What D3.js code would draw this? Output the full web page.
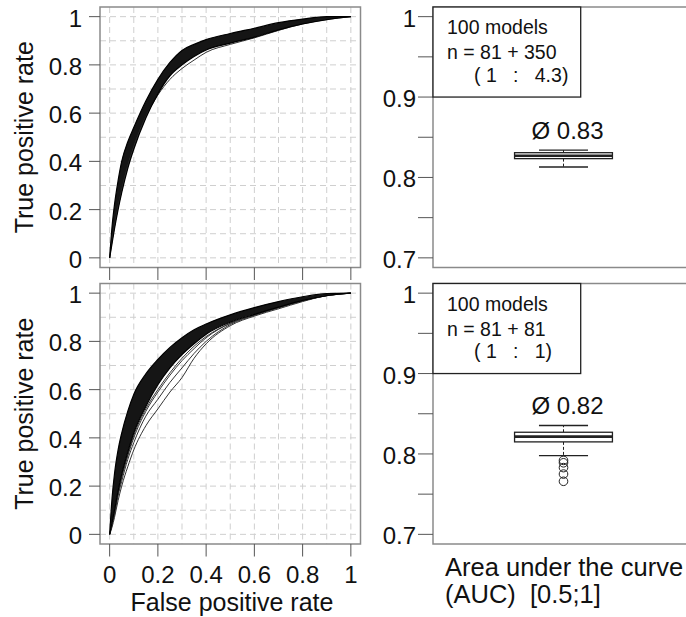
<!DOCTYPE html>
<html>
<head>
<meta charset="utf-8">
<script src="https://cdn.jsdelivr.net/npm/d3@7"></script>
<style>
  body { margin: 0; background: #fff; }
  text { font-family: "Liberation Sans", Arial, sans-serif; fill: #111; }
</style>
</head>
<body>
<div id="chartContainer"></div>
<script>
// false positive rate points shared by every ROC curve
const fprPoints = [0, 0.01, 0.02, 0.035, 0.05, 0.075, 0.1, 0.15, 0.2, 0.25, 0.3, 0.35, 0.4, 0.5, 0.6, 0.7, 0.8, 0.9, 1];

// top panel (n = 81 + 350): upper / lower edge of the bundle and one stray curve
const topUpper = [0, 0.13, 0.22, 0.32, 0.4, 0.48, 0.54, 0.65, 0.74, 0.81, 0.86, 0.885, 0.905, 0.93, 0.952, 0.975, 0.99, 1, 1];
const topLower = [0, 0.06, 0.12, 0.2, 0.27, 0.37, 0.45, 0.58, 0.68, 0.755, 0.8, 0.835, 0.862, 0.89, 0.915, 0.945, 0.97, 0.988, 1];
const topStray = [0, 0.07, 0.13, 0.21, 0.28, 0.38, 0.46, 0.585, 0.675, 0.74, 0.785, 0.82, 0.852, 0.885, 0.912, 0.943, 0.97, 0.988, 1];

// bottom panel (n = 81 + 81): dense core plus spread-out lower curves
const bottomUpper = [0, 0.15, 0.25, 0.35, 0.42, 0.51, 0.58, 0.665, 0.725, 0.775, 0.815, 0.848, 0.872, 0.91, 0.94, 0.965, 0.985, 0.998, 1];
const bottomCore = [0, 0.05, 0.1, 0.18, 0.25, 0.34, 0.42, 0.53, 0.62, 0.69, 0.745, 0.79, 0.83, 0.88, 0.912, 0.942, 0.97, 0.99, 1];
const bottomStray1 = [0, 0.03, 0.07, 0.14, 0.2, 0.28, 0.35, 0.45, 0.52, 0.59, 0.65, 0.73, 0.79, 0.865, 0.905, 0.935, 0.965, 0.99, 1];
const bottomStray2 = [0, 0.04, 0.08, 0.16, 0.22, 0.31, 0.38, 0.49, 0.56, 0.63, 0.69, 0.75, 0.8, 0.87, 0.908, 0.94, 0.968, 0.99, 1];
const bottomStray3 = [0, 0.045, 0.09, 0.17, 0.235, 0.325, 0.4, 0.51, 0.59, 0.66, 0.72, 0.77, 0.815, 0.875, 0.91, 0.94, 0.968, 0.99, 1];
const bottomStray4 = [0, 0.04, 0.09, 0.17, 0.24, 0.33, 0.41, 0.52, 0.6, 0.67, 0.73, 0.78, 0.82, 0.875, 0.91, 0.94, 0.97, 0.99, 1];

const rateTicks = [0, 0.2, 0.4, 0.6, 0.8, 1];
const rateLabels = ["0", "0.2", "0.4", "0.6", "0.8", "1"];
const aucTicks = [0.7, 0.75, 0.8, 0.85, 0.9, 0.95, 1];
const aucLabels = ["0.7", "", "0.8", "", "0.9", "", "1"];

// AUC boxplots, top then bottom
const aucMin = [0.813, 0.798];
const aucQ1 = [0.8234, 0.815];
const aucMedian = [0.827, 0.8215];
const aucQ3 = [0.8308, 0.827];
const aucMax = [0.834, 0.8354];
const aucMean = ["0.83", "0.82"];
const aucOutliers = [[], [0.792, 0.789, 0.783, 0.775, 0.766]];

const legendTop = ["100 models", "n = 81 + 350", "     ( 1   :   4.3)"];
const legendBottom = ["100 models", "n = 81 + 81", "     ( 1   :   1)"];

function pageLoaded() {
  const w = 686;
  const h = 617;
  const rowTops = [7, 283.5];
  const panelH = 260.5;
  const left = { x0: 100, x1: 360.5 };
  const right = { x0: 433, x1: 694 };

  const svg = d3
    .select("#chartContainer")
    .append("svg")
    .attr("width", w)
    .attr("height", h);

  const rocRows = [
    { bands: [[topUpper, topLower]], lines: [topUpper, topLower], strays: [topStray], legend: legendTop },
    {
      bands: [[bottomUpper, bottomCore]],
      lines: [bottomUpper, bottomCore],
      strays: [bottomStray1, bottomStray2, bottomStray3, bottomStray4],
      legend: legendBottom,
    },
  ];

  rocRows.forEach((row, i) => {
    const top = rowTops[i];

    // ---- ROC panel ----
    const xScale = d3.scaleLinear().domain([-0.04, 1.04]).range([left.x0, left.x1]);
    const yScale = d3.scaleLinear().domain([-0.04, 1.04]).range([top + panelH, top]);

    const g = svg.append("g");

    g.selectAll(".vgrid")
      .data(xScale.ticks(10))
      .enter()
      .append("line")
      .attr("x1", (d) => xScale(d))
      .attr("x2", (d) => xScale(d))
      .attr("y1", top)
      .attr("y2", top + panelH)
      .attr("stroke", "#cfcfcf")
      .attr("stroke-dasharray", "6,4");

    g.selectAll(".hgrid")
      .data(yScale.ticks(10))
      .enter()
      .append("line")
      .attr("x1", left.x0)
      .attr("x2", left.x1)
      .attr("y1", (d) => yScale(d))
      .attr("y2", (d) => yScale(d))
      .attr("stroke", "#cfcfcf")
      .attr("stroke-dasharray", "6,4");

    const line = d3
      .line()
      .x((d, j) => xScale(fprPoints[j]))
      .y((d) => yScale(d))
      .curve(d3.curveMonotoneX);

    const area = d3
      .area()
      .x((d, j) => xScale(fprPoints[j]))
      .y0((d) => yScale(d[1]))
      .y1((d) => yScale(d[0]))
      .curve(d3.curveMonotoneX);

    row.bands.forEach((b) => {
      g.append("path")
        .datum(fprPoints.map((p, j) => [b[0][j], b[1][j]]))
        .attr("d", area)
        .attr("fill", "#151515");
    });

    row.strays.forEach((s) => {
      g.append("path")
        .datum(s)
        .attr("d", line)
        .attr("fill", "none")
        .attr("stroke", "#333")
        .attr("stroke-width", 1);
    });

    row.lines.forEach((s) => {
      g.append("path")
        .datum(s)
        .attr("d", line)
        .attr("fill", "none")
        .attr("stroke", "#000")
        .attr("stroke-width", 1.2);
    });

    g.append("rect")
      .attr("x", left.x0)
      .attr("y", top)
      .attr("width", left.x1 - left.x0)
      .attr("height", panelH)
      .attr("fill", "none")
      .attr("stroke", "#8a8a8a")
      .attr("stroke-width", 1.5);

    // y axis
    g.selectAll(".ytick")
      .data(rateTicks)
      .enter()
      .append("line")
      .attr("x1", left.x0 - 11)
      .attr("x2", left.x0)
      .attr("y1", (d) => yScale(d))
      .attr("y2", (d) => yScale(d))
      .attr("stroke", "#555");

    g.selectAll(".ylab")
      .data(rateTicks)
      .enter()
      .append("text")
      .attr("x", left.x0 - 18)
      .attr("y", (d) => yScale(d) + 10)
      .attr("text-anchor", "end")
      .attr("font-size", "24px")
      .text((d, j) => rateLabels[j]);

    g.append("text")
      .attr("transform", `translate(33, ${yScale(0.5)}) rotate(-90)`)
      .attr("text-anchor", "middle")
      .attr("font-size", "25px")
      .text("True positive rate");

    // x ticks (labels only on the lower panel)
    g.selectAll(".xtick")
      .data(rateTicks)
      .enter()
      .append("line")
      .attr("x1", (d) => xScale(d))
      .attr("x2", (d) => xScale(d))
      .attr("y1", top + panelH)
      .attr("y2", top + panelH + 12.5)
      .attr("stroke", "#555");

    if (i === 1) {
      g.selectAll(".xlab")
        .data(rateTicks)
        .enter()
        .append("text")
        .attr("x", (d) => xScale(d))
        .attr("y", top + panelH + 38.5)
        .attr("text-anchor", "middle")
        .attr("font-size", "24px")
        .text((d, j) => rateLabels[j]);

      g.append("text")
        .attr("x", 232)
        .attr("y", 611)
        .attr("text-anchor", "middle")
        .attr("font-size", "25px")
        .text("False positive rate");
    }

    // ---- AUC panel ----
    const aucScale = d3.scaleLinear().domain([0.688, 1.012]).range([top + panelH, top]);
    const bx = d3.scaleLinear().domain([0, 1]).range([right.x0, right.x1]);
    const r = svg.append("g");

    r.append("rect")
      .attr("x", right.x0)
      .attr("y", top)
      .attr("width", right.x1 - right.x0)
      .attr("height", panelH)
      .attr("fill", "none")
      .attr("stroke", "#8a8a8a")
      .attr("stroke-width", 1.5);

    r.selectAll(".atick")
      .data(aucTicks)
      .enter()
      .append("line")
      .attr("x1", right.x0 - 15)
      .attr("x2", right.x0)
      .attr("y1", (d) => aucScale(d))
      .attr("y2", (d) => aucScale(d))
      .attr("stroke", "#555");

    r.selectAll(".alab")
      .data(aucTicks)
      .enter()
      .append("text")
      .attr("x", right.x0 - 17)
      .attr("y", (d) => aucScale(d) + 10)
      .attr("text-anchor", "end")
      .attr("font-size", "24px")
      .text((d, j) => aucLabels[j]);

    // legend box
    r.append("rect")
      .attr("x", right.x0)
      .attr("y", top)
      .attr("width", 147.7)
      .attr("height", aucScale(0.9) - top)
      .attr("fill", "#fff")
      .attr("stroke", "#222")
      .attr("stroke-width", 1.3);

    r.selectAll(".leg")
      .data(row.legend)
      .enter()
      .append("text")
      .attr("x", right.x0 + 14)
      .attr("y", (d, j) => top + [27.3, 52, 74.5][j])
      .attr("font-size", "19.5px")
      .attr("xml:space", "preserve")
      .style("white-space", "pre")
      .text((d) => d);

    // boxplot
    const cx = bx(0.5);
    const halfBox = bx(0.1875) - bx(0);
    const halfCap = bx(0.094) - bx(0);

    [[aucQ3[i], aucMax[i]], [aucQ1[i], aucMin[i]]].forEach((pair) => {
      r.append("line")
        .attr("x1", cx)
        .attr("x2", cx)
        .attr("y1", aucScale(pair[0]))
        .attr("y2", aucScale(pair[1]))
        .attr("stroke", "#222")
        .attr("stroke-dasharray", "3,2");
    });

    [aucMax[i], aucMin[i]].forEach((v) => {
      r.append("line")
        .attr("x1", cx - halfCap)
        .attr("x2", cx + halfCap)
        .attr("y1", aucScale(v))
        .attr("y2", aucScale(v))
        .attr("stroke", "#222")
        .attr("stroke-width", 1.3);
    });

    r.append("rect")
      .attr("x", cx - halfBox)
      .attr("y", aucScale(aucQ3[i]))
      .attr("width", 2 * halfBox)
      .attr("height", aucScale(aucQ1[i]) - aucScale(aucQ3[i]))
      .attr("fill", "#fff")
      .attr("stroke", "#222")
      .attr("stroke-width", 1.3);

    r.append("line")
      .attr("x1", cx - halfBox)
      .attr("x2", cx + halfBox)
      .attr("y1", aucScale(aucMedian[i]))
      .attr("y2", aucScale(aucMedian[i]))
      .attr("stroke", "#222")
      .attr("stroke-width", 2.6);

    r.selectAll(".out")
      .data(aucOutliers[i])
      .enter()
      .append("circle")
      .attr("cx", cx)
      .attr("cy", (d) => aucScale(d))
      .attr("r", 4.3)
      .attr("fill", "none")
      .attr("stroke", "#222");

    r.append("text")
      .attr("x", cx + 4)
      .attr("y", aucScale(aucMax[i]) - 11.5)
      .attr("text-anchor", "middle")
      .attr("font-size", "24px")
      .text("Ø " + aucMean[i]);

    if (i === 1) {
      r.append("text")
        .attr("x", 445)
        .attr("y", 576)
        .attr("font-size", "25.5px")
        .text("Area under the curve");
      r.append("text")
        .attr("x", 445)
        .attr("y", 603)
        .attr("font-size", "25.5px")
        .attr("xml:space", "preserve")
        .style("white-space", "pre")
        .text("(AUC)  [0.5;1]");
    }
  });
}

window.addEventListener("load", pageLoaded);
</script>
</body>
</html>
